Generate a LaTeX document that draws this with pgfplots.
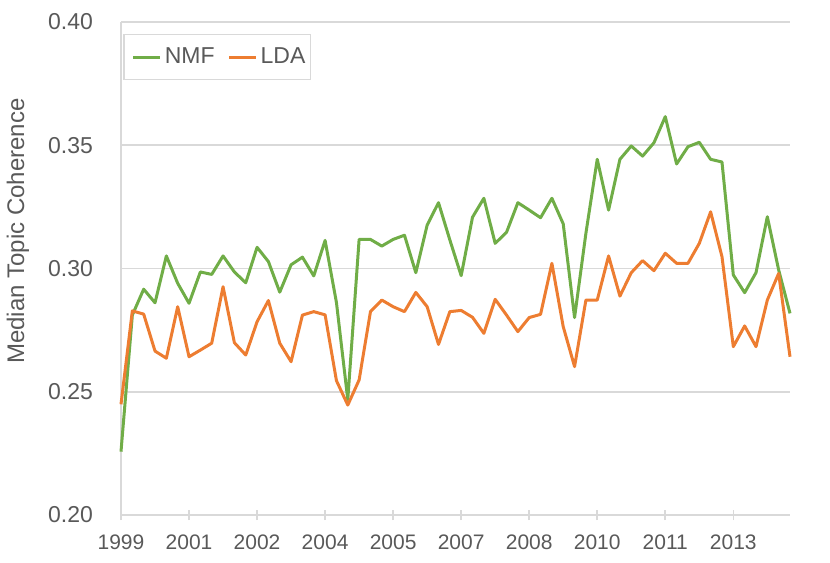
\documentclass[border=0pt]{standalone}
\usepackage{fontspec}
\setmainfont{Liberation Sans}
\usepackage{pgfplots}
\pgfplotsset{compat=1.18}
\definecolor{nmf}{HTML}{70AD47}
\definecolor{lda}{HTML}{ED7D31}
\definecolor{txt}{HTML}{595959}
\definecolor{grd}{HTML}{D9D9D9}
\begin{document}
\begin{tikzpicture}
\begin{axis}[
  scale only axis, width=334.5pt, height=246.5pt,
  xmin=0, xmax=59, ymin=0.2, ymax=0.4,
  axis x line*=bottom, axis y line*=left,
  axis line style={grd, line width=0.8pt, -},
  xtick={0,6,...,54},
  xticklabels={1999,2001,2002,2004,2005,2007,2008,2010,2011,2013},
  xtick style={grd, line width=0.8pt},
  tick align=center, major tick length=5pt,
  ytick={0.20,0.25,...,0.40},
  ytick style={draw=none},
  ymajorgrids, grid style={grd, line width=0.8pt},
  yticklabel style={/pgf/number format/fixed, /pgf/number format/fixed zerofill, /pgf/number format/precision=2, font=\fontsize{11.5}{13}\selectfont, text=txt, xshift=-8pt},
  /pgf/number format/assume math mode=true,
  xticklabel style={font=\fontsize{10.5}{12}\selectfont, text=txt, yshift=-4pt},
  ylabel={Median Topic Coherence},
  every axis y label/.style={at={(axis description cs:-0.154,0.576)}, rotate=90, anchor=center, font=\fontsize{12}{14}\selectfont, text=txt},
  legend style={at={(axis description cs:0.003,0.976)}, anchor=north west, draw=grd, line width=0.8pt, font=\fontsize{11.5}{13}\selectfont, text=txt, legend columns=-1, inner xsep=1pt, inner ysep=4.5pt, nodes={inner xsep=1.5pt}, /tikz/every even column/.append style={column sep=2pt}},
  legend image code/.code={\path (0pt,0pt); \draw[#1, line width=1.5pt] (3pt,0pt) -- (16.5pt,0pt);},
  clip=false,
]
\addplot[nmf, line width=1.5pt, line join=round] coordinates {
(0,0.2257)(1,0.2811)(2,0.2916)(3,0.2861)(4,0.3051)(5,0.2940)(6,0.2859)(7,0.2986)(8,0.2976)(9,0.3051)
(10,0.2986)(11,0.2942)(12,0.3086)(13,0.3028)(14,0.2904)(15,0.3015)(16,0.3046)(17,0.2970)(18,0.3114)(19,0.2862)
(20,0.2468)(21,0.3118)(22,0.3118)(23,0.3091)(24,0.3118)(25,0.3135)(26,0.2983)(27,0.3176)(28,0.3267)(29,0.3116)
(30,0.2971)(31,0.3208)(32,0.3285)(33,0.3102)(34,0.3147)(35,0.3267)(36,0.3237)(37,0.3206)(38,0.3285)(39,0.3181)
(40,0.2801)(41,0.3143)(42,0.3443)(43,0.3237)(44,0.3443)(45,0.3497)(46,0.3456)(47,0.3510)(48,0.3616)(49,0.3424)
(50,0.3494)(51,0.3512)(52,0.3443)(53,0.3432)(54,0.2974)(55,0.2902)(56,0.2983)(57,0.3210)(58,0.2994)(59,0.2818)
};
\addlegendentry{NMF}
\addplot[lda, line width=1.5pt, line join=round] coordinates {
(0,0.2449)(1,0.2828)(2,0.2815)(3,0.2665)(4,0.2636)(5,0.2845)(6,0.2642)(7,0.2669)(8,0.2697)(9,0.2926)
(10,0.2699)(11,0.2649)(12,0.2784)(13,0.2870)(14,0.2697)(15,0.2622)(16,0.2811)(17,0.2825)(18,0.2812)(19,0.2545)
(20,0.2446)(21,0.2548)(22,0.2825)(23,0.2872)(24,0.2845)(25,0.2825)(26,0.2903)(27,0.2845)(28,0.2692)(29,0.2825)
(30,0.2830)(31,0.2802)(32,0.2737)(33,0.2875)(34,0.2811)(35,0.2744)(36,0.2801)(37,0.2814)(38,0.3021)(39,0.2764)
(40,0.2602)(41,0.2872)(42,0.2872)(43,0.3051)(44,0.2888)(45,0.2983)(46,0.3032)(47,0.2991)(48,0.3062)(49,0.3021)
(50,0.3021)(51,0.3102)(52,0.3230)(53,0.3048)(54,0.2683)(55,0.2767)(56,0.2683)(57,0.2872)(58,0.2980)(59,0.2642)
};
\addlegendentry{LDA}
\end{axis}
\pgfresetboundingbox
\path[use as bounding box] ([xshift=-60.5pt,yshift=-23.5pt]current axis.south west) rectangle ([xshift=20pt,yshift=11pt]current axis.north east);
\end{tikzpicture}
\end{document}
